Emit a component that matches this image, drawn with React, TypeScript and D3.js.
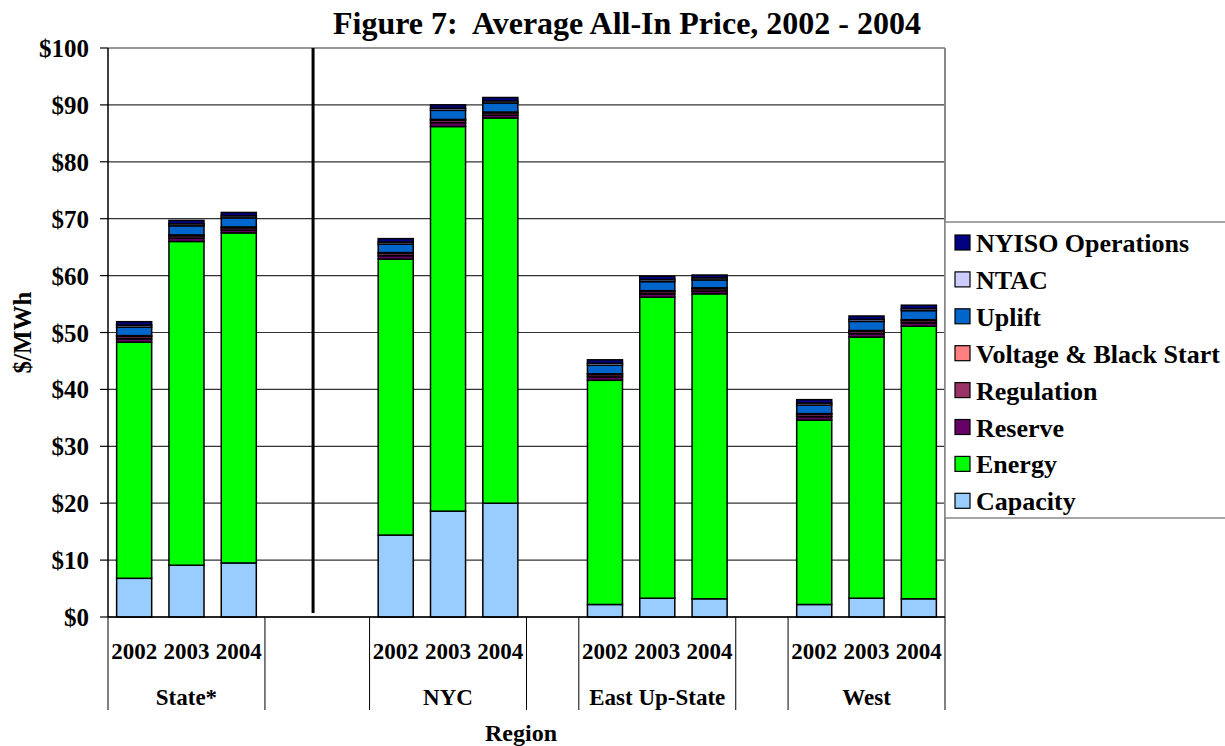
import React from "react";
import * as d3 from "d3";

// categories
const regionNames = ["State*", "", "NYC", "", "East Up-State", "", "West"];
const regionSlots = [3, 2, 3, 1, 3, 1, 3];
const years = ["2002", "2003", "2004"];
const yTicks = [0, 10, 20, 30, 40, 50, 60, 70, 80, 90, 100];

// series values, 12 bars: State, NYC, East Up-State, West x 2002-2004
const capacity = [6.8, 9.1, 9.5, 14.4, 18.6, 20.0, 2.2, 3.3, 3.2, 2.2, 3.3, 3.2];
const energy = [41.5, 56.9, 58.0, 48.5, 67.6, 67.7, 39.4, 52.9, 53.6, 32.4, 45.9, 47.9];
const reserve = [0.6, 0.6, 0.5, 0.6, 0.7, 0.5, 0.6, 0.6, 0.5, 0.6, 0.6, 0.6];
const regulation = [0.4, 0.4, 0.4, 0.4, 0.4, 0.4, 0.4, 0.4, 0.4, 0.4, 0.4, 0.4];
const voltage = [0.15, 0.15, 0.15, 0.15, 0.15, 0.15, 0.15, 0.15, 0.15, 0.15, 0.15, 0.15];
const uplift = [1.5, 1.6, 1.6, 1.5, 1.6, 1.6, 1.5, 1.6, 1.4, 1.5, 1.6, 1.6];
const ntac = [0.35, 0.35, 0.35, 0.35, 0.35, 0.35, 0.35, 0.35, 0.35, 0.35, 0.35, 0.35];
const operations = [0.6, 0.6, 0.6, 0.6, 0.6, 0.6, 0.6, 0.6, 0.5, 0.6, 0.6, 0.6];

const seriesNames = ["Capacity", "Energy", "Reserve", "Regulation", "Voltage & Black Start", "Uplift", "NTAC", "NYISO Operations"];
const seriesValues = [capacity, energy, reserve, regulation, voltage, uplift, ntac, operations];
const seriesColors = ["#99CCFF", "#00FF00", "#660066", "#993366", "#FF8080", "#0066CC", "#CCCCFF", "#000080"];

const W = 1225;
const H = 746;
const left = 108;
const right = 945;
const top = 48;
const bottom = 617;
const font = "'Liberation Serif', 'Times New Roman', serif";

export default function App() {
  const nSlots = d3.sum(regionSlots);
  const x = d3.scaleBand<number>()
    .domain(d3.range(nSlots))
    .range([left, right])
    .paddingInner(0.33)
    .paddingOuter(0.165);
  const y = d3.scaleLinear().domain([0, 100]).range([bottom, top]);

  // map bar index -> slot index (skip blank groups)
  const barSlots: number[] = [];
  const groupStarts: number[] = [];
  let s = 0;
  regionSlots.forEach((n, gi) => {
    groupStarts.push(s);
    if (regionNames[gi] !== "") {
      for (let k = 0; k < n; k++) barSlots.push(s + k);
    }
    s += n;
  });
  groupStarts.push(s);

  const rows = barSlots.map((slot, i) => {
    const r: any = { slot };
    seriesNames.forEach((name, si) => (r[name] = seriesValues[si][i]));
    return r;
  });
  const stacked = d3.stack<any>().keys(seriesNames)(rows);

  const step = x.step();
  const slotX = (i: number) => left + i * step;
  const dividerX = slotX(3) + step * 0.92;

  return (
    <svg width={W} height={H} style={{ position: "absolute", left: 0, top: 0, background: "#fff" }} fontFamily={font} fontWeight="bold">
      <text x={627} y={34} textAnchor="middle" fontSize={32} style={{ whiteSpace: "pre" }}>
        {"Figure 7:  Average All-In Price, 2002 - 2004"}
      </text>

      {/* gridlines */}
      {yTicks.map((t) => (
        <g key={t}>
          <line x1={left} x2={right} y1={y(t)} y2={y(t)} stroke="#333" strokeWidth={1.2} />
          <line x1={left - 8} x2={left} y1={y(t)} y2={y(t)} stroke="#000" strokeWidth={1.2} />
          <text x={89} y={y(t) + 9} textAnchor="end" fontSize={25}>{"$" + t}</text>
        </g>
      ))}
      <line x1={right} x2={right} y1={top} y2={bottom} stroke="#888" strokeWidth={2} />
      <line x1={left} x2={left} y1={top} y2={bottom} stroke="#000" strokeWidth={1.5} />

      {/* bars */}
      {stacked.map((layer, si) => (
        <g key={layer.key} fill={seriesColors[si]}>
          {layer.map((d, i) => (
            <rect key={i} x={x(rows[i].slot)} width={x.bandwidth()} y={y(d[1])} height={y(d[0]) - y(d[1])} stroke="#000" strokeWidth={1.5} />
          ))}
        </g>
      ))}

      {/* divider */}
      <line x1={dividerX} x2={dividerX} y1={top} y2={bottom - 4} stroke="#000" strokeWidth={3} />

      {/* x axis */}
      <line x1={left} x2={right} y1={bottom} y2={bottom} stroke="#000" strokeWidth={1.5} />
      {groupStarts.map((g, i) => (
        <line key={i} x1={slotX(g)} x2={slotX(g)} y1={bottom} y2={710} stroke="#000" strokeWidth={1} />
      ))}
      {barSlots.map((slot, i) => (
        <text key={i} x={x(slot)! + x.bandwidth() / 2} y={659} textAnchor="middle" fontSize={23}>{years[i % 3]}</text>
      ))}
      {regionNames.map((name, gi) => (
        name ? (
          <text key={gi} x={slotX(groupStarts[gi]) + (regionSlots[gi] * step) / 2} y={705} textAnchor="middle" fontSize={23}>{name}</text>
        ) : null
      ))}
      <text x={521} y={741} textAnchor="middle" fontSize={24}>Region</text>
      <text transform={`translate(31, ${(top + bottom) / 2}) rotate(-90)`} textAnchor="middle" fontSize={25}>$/MWh</text>

      {/* legend */}
      <rect x={right} y={222} width={300} height={296} fill="#fff" stroke="#888" strokeWidth={1.5} />
      {seriesNames.slice().reverse().map((name, i) => {
        const si = seriesNames.length - 1 - i;
        const cy = 243 + i * 36.9;
        return (
          <g key={name}>
            <rect x={955} y={cy - 8} width={15} height={15} fill={seriesColors[si]} stroke="#000" strokeWidth={1.2} />
            <text x={976} y={cy + 9} fontSize={26}>{name}</text>
          </g>
        );
      })}
    </svg>
  );
}
